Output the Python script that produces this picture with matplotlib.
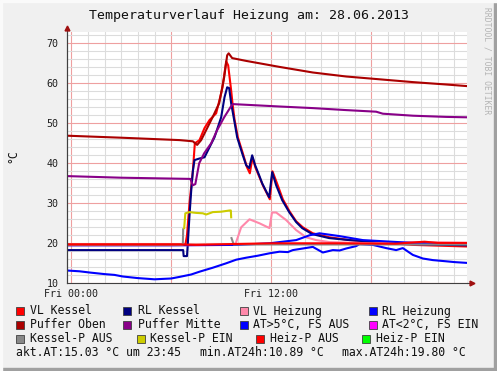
import numpy as np
import matplotlib
matplotlib.use("Agg")
import matplotlib.pyplot as plt
from matplotlib.patches import Rectangle

plt.rcParams['font.family'] = ['DejaVu Sans Mono']

W, H = 497, 371
nan = np.nan

# Stunden seit 00:00 und Temperaturen
vl_kessel_h = [-0.25, 3, 6.5, 6.85, 6.95, 7.1, 7.3, 7.42, 7.7, 8.0, 8.3, 8.7, 9.0, 9.08, 9.3, 9.42,
               9.6, 9.68, 9.8, 10.0, 10.3, 10.55, 10.72, 10.88, 11.05, 11.3, 11.5, 11.92, 12.08, 12.35,
               12.7, 13.1, 13.5, 13.9, 14.5, 15.5, 16.7, 18.5, 20.5, 23.75]
vl_kessel = [19.7, 19.7, 19.7, 19.6, 22, 30, 38, 45, 45.8, 48.8, 50.8, 52.5, 57.5, 59, 65.5, 64.5,
             58.2, 55, 51, 46.5, 42.5, 39, 37.5, 41.5, 39, 36.5, 34.5, 31, 38, 35,
             31, 28, 25.5, 24, 22.5, 21.5, 20.8, 20.2, 19.6, 19.2]

rl_kessel_h = [-0.25, 3, 6.72, 6.75, 6.95, 7.0, 7.1, 7.2, 7.3, 7.4, 7.7, 8.0, 8.3, 8.6, 9.0, 9.2,
               9.36, 9.48, 9.6, 9.78, 9.96, 10.26, 10.5, 10.68, 10.86, 11.04, 11.28, 11.46, 11.88,
               12.06, 12.3, 12.66, 13.08, 13.5, 13.86, 14.46, 15.48, 16.7, 18.5, 20.5, 23.75]
rl_kessel = [18.3, 18.3, 18.3, 16.8, 16.8, 20, 27, 33, 38, 40.8, 41.2, 41.5, 44, 46.5, 51.5, 56.5,
             59, 58.8, 55, 50.8, 46.5, 42.5, 39.5, 38.8, 42, 39.5, 37, 35, 31.5,
             37.8, 34.5, 30.8, 27.8, 25.3, 23.8, 22.3, 21.3, 20.8, 20.2, 19.8, 19.5]

vl_heizung_h = [-0.25, 6, 9.8, 9.9, 10.2, 10.7, 11.3, 11.9, 12.05, 12.3, 12.9, 13.5, 14.1, 14.7,
                15.5, 18, 21, 23.75]
vl_heizung = [19.5, 19.5, 19.6, 20.3, 24, 26, 25, 23.8, 27.7, 27.7, 25.8, 23.3, 21.5, 20.8,
              20.3, 20.0, 20.3, 20.1]

rl_heizung_h = [-0.25, 6, 10, 11.9, 13.5, 14.3, 14.9, 16.1, 17.5, 20.5, 23.75]
rl_heizung = [19.5, 19.5, 19.6, 20.0, 20.8, 22.0, 22.5, 21.8, 20.8, 20.1, 19.9]

puffer_oben_h = [-0.25, 3, 6.5, 7.3, 7.56, 7.8, 8.1, 8.46, 8.88, 9.18, 9.36, 9.45, 9.66, 10.5,
                 12.5, 14.5, 16.5, 18.5, 20.5, 22.5, 23.75]
puffer_oben = [46.9, 46.4, 45.8, 45.5, 44.6, 45.8, 48.3, 51.3, 55, 61.5, 67, 67.5, 66.3, 65.6,
               64.1, 62.7, 61.7, 61, 60.3, 59.7, 59.3]

puffer_mitte_h = [-0.25, 3, 7.15, 7.3, 7.45, 7.68, 7.98, 8.4, 8.76, 9.18, 9.6, 9.7, 12.5, 14.5,
                  16.5, 18.3, 18.7, 20.5, 22.5, 23.75]
puffer_mitte = [36.8, 36.4, 36.1, 34.5, 34.8, 40, 42.5, 45, 48.3, 51.5, 54.3, 54.8, 54.2, 53.8,
                53.3, 52.9, 52.4, 51.9, 51.6, 51.5]

aussen_h = [-0.25, 0.5, 1.1, 2, 2.6, 3.1, 4, 5, 6, 6.5, 7.2, 7.7, 8.5, 9.3, 9.9, 10.5, 11.2, 11.9,
            12.5, 13.0, 13.3, 13.9, 14.5, 15.1, 15.7, 16.1, 16.5, 17.1, 17.3, 18.1, 18.9, 19.5,
            19.9, 20.5, 21.1, 21.7, 22.5, 23.0, 23.75]
aussen = [13.2, 13.0, 12.7, 12.3, 12.1, 11.7, 11.3, 11.0, 11.2, 11.6, 12.2, 12.9, 13.9, 15.0, 15.9,
          16.4, 16.9, 17.5, 17.9, 17.8, 18.3, 18.7, 19.1, 17.7, 18.3, 18.2, 18.7, 19.3, 19.8,
          19.6, 18.8, 18.3, 18.8, 17.1, 16.2, 15.8, 15.5, 15.3, 15.1]

kessel_p_aus_h = [-0.25, 6.7, 6.72, 6.73, 9.62, 9.68, 9.75, 23.75]
kessel_p_aus = [19.6, 19.6, 23.5, nan, 21.3, 20.6, 19.7, 19.7]

kessel_p_ein_h = [6.78, 6.85, 7.1, 7.5, 7.9, 8.1, 8.5, 9.0, 9.5, 9.58, 9.6]
kessel_p_ein = [23.8, 27.5, 27.8, 27.6, 27.5, 27.2, 27.8, 27.9, 28.2, 28.2, 26.5]

heiz_p_aus_h = [-0.25, 6.5, 7.5, 9.5, 12, 16, 19.5, 20.5, 21.2, 22, 23.75]
heiz_p_aus = [19.7, 19.7, 19.6, 19.8, 20.0, 20.0, 19.9, 20.2, 20.4, 20.1, 20.1]

legende = [
    ("VL Kessel", "#ff0000"), ("RL Kessel", "#000080"), ("VL Heizung", "#ff88aa"), ("RL Heizung", "#0000ff"),
    ("Puffer Oben", "#aa0000"), ("Puffer Mitte", "#880088"), ("AT>5°C, FS AUS", "#0000ff"), ("AT<2°C, FS EIN", "#ff00ff"),
    ("Kessel-P AUS", "#888888"), ("Kessel-P EIN", "#cccc00"), ("Heiz-P AUS", "#ff0000"), ("Heiz-P EIN", "#00ff00"),
]
leg_box_x = [[16, 123, 240, 369], [16, 123, 240, 369], [16, 137, 256, 362]]
leg_txt_x = [[30, 138, 253, 382], [30, 138, 253, 382], [30, 150, 270, 376]]
leg_y = [311, 325, 339]


def fx(x):
    return x / W


def fy(y):
    return 1 - y / H


fig = plt.figure(figsize=(W / 100, H / 100), dpi=100, facecolor="#f0f0f0")
# Rahmen
fig.patches.append(Rectangle((fx(494), 0), fx(3), 1, transform=fig.transFigure, color="#a0a0a0", zorder=0))
fig.patches.append(Rectangle((0, 0), 1, 3 / H, transform=fig.transFigure, color="#a0a0a0", zorder=0))
fig.patches.append(Rectangle((0, 0), fx(1.5), 1, transform=fig.transFigure, color="#fafafa", zorder=0))
fig.patches.append(Rectangle((0, fy(1.5)), 1, 1.5 / H, transform=fig.transFigure, color="#fafafa", zorder=0))

ax = fig.add_axes([fx(67), fy(283.3), fx(467) - fx(67), fy(32.3) - fy(283.3)])
ax.set_facecolor("white")
ax.set_xlim(-0.25, 23.75)
ax.set_ylim(10, 72.75)

ax.set_xticks([0, 6, 12, 18])
ax.set_xticklabels(["Fri 00:00", "", "Fri 12:00", ""])
ax.set_xticks([h for h in range(0, 24) if h % 6 != 0], minor=True)
ax.set_yticks(np.arange(10, 71, 10))
ax.set_yticks([t for t in range(12, 73, 2) if t % 10 != 0], minor=True)
ax.grid(which="minor", color="#dcdcdc", lw=0.8)
ax.grid(which="major", color="#eea0a0", lw=0.8)
ax.set_axisbelow(True)
ax.tick_params(which="both", length=0, labelsize=7.2, colors="#202020")
ax.tick_params(axis="x", pad=4)
ax.tick_params(axis="y", pad=6)
for s in ["top", "right"]:
    ax.spines[s].set_visible(False)
for s in ["left", "bottom"]:
    ax.spines[s].set_color("#404040")
    ax.spines[s].set_linewidth(0.8)

lw = 1.5
ax.plot(vl_kessel_h, vl_kessel, color="#ff0000", lw=lw)
ax.plot(rl_kessel_h, rl_kessel, color="#000080", lw=lw)
ax.plot(vl_heizung_h, vl_heizung, color="#ff88aa", lw=lw)
ax.plot(rl_heizung_h, rl_heizung, color="#0000ff", lw=lw)
ax.plot(puffer_oben_h, puffer_oben, color="#aa0000", lw=lw)
ax.plot(puffer_mitte_h, puffer_mitte, color="#880088", lw=lw)
ax.plot(aussen_h, aussen, color="#0000ff", lw=lw)
ax.plot(kessel_p_aus_h, kessel_p_aus, color="#888888", lw=lw)
ax.plot(kessel_p_ein_h, kessel_p_ein, color="#cccc00", lw=lw)
ax.plot(heiz_p_aus_h, heiz_p_aus, color="#ff0000", lw=lw)

# Achsenpfeile
fig.add_artist(plt.Line2D([fx(67), fx(67)], [fy(283.3), fy(27)], color="#404040", lw=0.8))
fig.add_artist(plt.Line2D([fx(467), fx(472)], [fy(283.3), fy(283.3)], color="#404040", lw=0.8))
fig.add_artist(plt.Line2D([fx(67)], [fy(28)], marker="^", color="#a01010", ms=3.5, lw=0))
fig.add_artist(plt.Line2D([fx(472)], [fy(283.3)], marker=">", color="#a01010", ms=3.5, lw=0))

fig.text(fx(249), fy(16), "Temperaturverlauf Heizung am: 28.06.2013", ha="center", va="center",
         fontsize=9.5, color="#101010")
fig.text(fx(13), fy(156), "°C", rotation=90, ha="center", va="center", fontsize=8.3, color="#101010")
fig.text(fx(487), fy(61), "RRDTOOL / TOBI OETIKER", rotation=270, ha="center", va="center",
         fontsize=5.8, color="#b4b4b4")

for i, (name, col) in enumerate(legende):
    r, c = divmod(i, 4)
    bx = leg_box_x[r][c]
    fig.patches.append(Rectangle((fx(bx), fy(leg_y[r] + 4)), fx(8), 8 / H, transform=fig.transFigure,
                                 facecolor=col, edgecolor="#404040", lw=0.6))
    fig.text(fx(leg_txt_x[r][c]), fy(leg_y[r]), name, ha="left", va="center", fontsize=8.3, color="#101010")

fig.text(fx(16), fy(353), "akt.AT:15.03 °C um 23:45", ha="left", va="center", fontsize=8.3, color="#101010")
fig.text(fx(200), fy(353), "min.AT24h:10.89 °C", ha="left", va="center", fontsize=8.3, color="#101010")
fig.text(fx(342), fy(353), "max.AT24h:19.80 °C", ha="left", va="center", fontsize=8.3, color="#101010")

fig.savefig("out.png", dpi=100, facecolor=fig.get_facecolor())
